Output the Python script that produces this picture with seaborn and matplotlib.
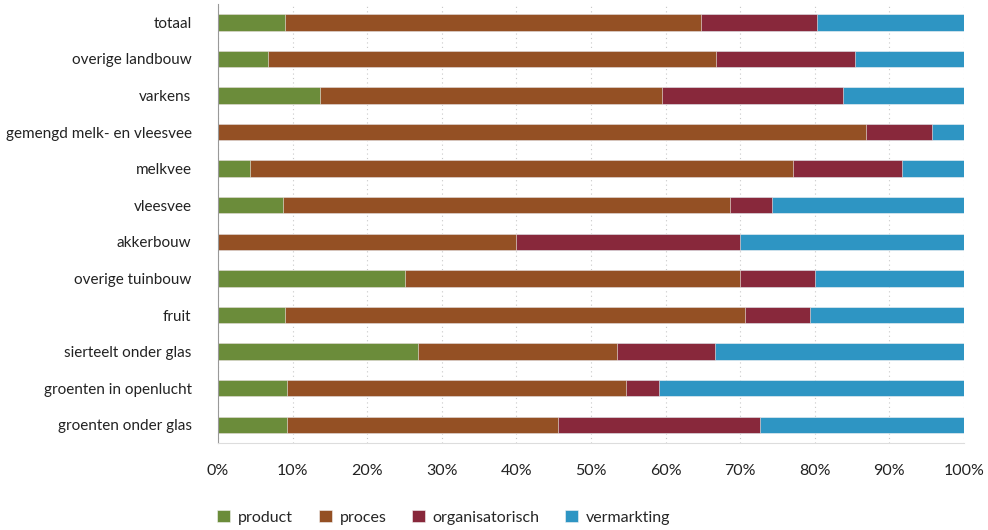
import numpy as np
import pandas as pd
import matplotlib.pyplot as plt
import seaborn as sns

sectors = ['totaal', 'overige landbouw', 'varkens', 'gemengd melk- en vleesvee',
           'melkvee', 'vleesvee', 'akkerbouw', 'overige tuinbouw', 'fruit',
           'sierteelt onder glas', 'groenten in openlucht', 'groenten onder glas']
product = [9.0, 6.7, 13.7, 0.0, 4.3, 8.7, 0.0, 25.1, 9.0, 26.8, 9.2, 9.2]
proces = [55.7, 60.1, 45.8, 86.9, 72.8, 59.9, 39.9, 44.9, 61.6, 26.7, 45.5, 36.4]
organisatorisch = [15.6, 18.6, 24.3, 8.8, 14.6, 5.7, 30.1, 10.0, 8.8, 13.1, 4.4, 27.1]
vermarkting = [19.7, 14.6, 16.2, 4.3, 8.3, 25.7, 30.0, 20.0, 20.6, 33.4, 40.9, 27.3]

series = ['product', 'proces', 'organisatorisch', 'vermarkting']
colors = ['#6b8c3a', '#945024', '#88283b', '#2e95c3']

df = pd.DataFrame({'sector': sectors, 'product': product, 'proces': proces,
                   'organisatorisch': organisatorisch, 'vermarkting': vermarkting})
# normalise to 100%
tot = df[series].sum(axis=1)
for s in series:
    df[s] = df[s] / tot * 100

cum = df[series].cumsum(axis=1)

sns.set_style('white')
plt.rcParams['font.family'] = ['Lato', 'DejaVu Sans']

fig, ax = plt.subplots(figsize=(9.88, 5.3), dpi=100)
fig.subplots_adjust(left=0.2206, right=0.9757, top=0.9925, bottom=0.164)

# draw from the widest cumulative down so each segment shows
for s, c in reversed(list(zip(series, colors))):
    sns.barplot(x=cum[s], y=df['sector'], orient='h', color=c, width=0.45,
                saturation=1, edgecolor='#f4f4f4', linewidth=0.4, ax=ax, label=s)

ax.set_xlim(0, 100)
ax.set_ylim(len(sectors) - 0.5, -0.5)
ax.set_xticks(np.arange(0, 101, 10))
ax.set_xticklabels([f'{v}%' for v in range(0, 101, 10)], fontsize=11.5, color='#222222')
ax.tick_params(axis='y', labelsize=11, labelcolor='#222222', length=0, pad=19)
ax.tick_params(axis='x', length=0, pad=15)
ax.set_xlabel('')
ax.set_ylabel('')
ax.set_axisbelow(True)
ax.xaxis.grid(True, linestyle=(0, (1, 3)), color='#c8c8c8', linewidth=0.8)
for sp in ['top', 'right']:
    ax.spines[sp].set_visible(False)
ax.spines['left'].set_color('#999999')
ax.spines['bottom'].set_color('#dddddd')

handles, labels = ax.get_legend_handles_labels()
order = [labels.index(s) for s in series]
ax.legend([handles[i] for i in order], series, loc='upper left',
          bbox_to_anchor=(-0.02, -0.12), ncol=4, frameon=False, fontsize=11.5,
          handlelength=0.8, handleheight=0.8, columnspacing=1.6, handletextpad=0.5)

fig.savefig('out.png', dpi=100)
